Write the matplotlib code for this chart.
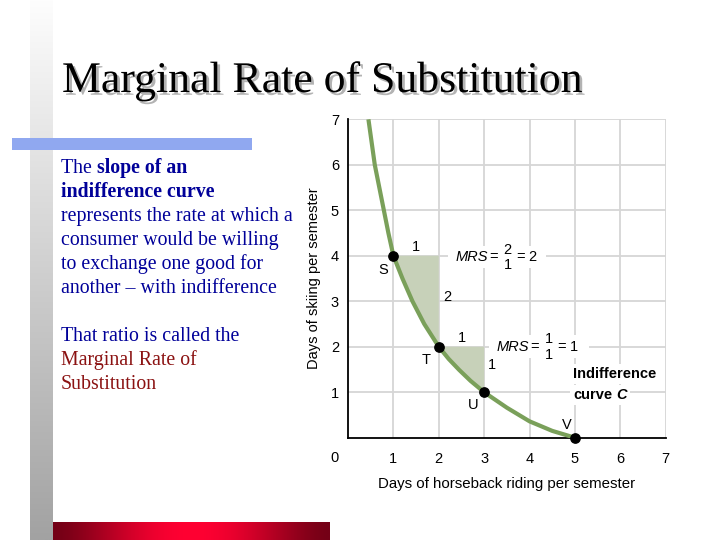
import numpy as np
import matplotlib
matplotlib.use("Agg")
import matplotlib.pyplot as plt
import matplotlib.patheffects as pe
from matplotlib import font_manager
from matplotlib.colors import LinearSegmentedColormap
from matplotlib.patches import Rectangle

# Indifference curve C
curve_x = [0.45, 0.52, 0.59, 0.69, 0.79, 0.89, 1.00, 1.20, 1.42, 1.68, 2.00,
           2.22, 2.45, 2.70, 3.00, 3.50, 4.00, 4.50, 5.00]
curve_y = [7.00, 6.50, 6.00, 5.50, 5.00, 4.50, 4.00, 3.50, 3.00, 2.50, 2.00,
           1.73, 1.49, 1.25, 1.00, 0.66, 0.36, 0.15, 0.00]

# Marked bundles on the curve
point_x = [1, 2, 3, 5]
point_y = [4, 2, 1, 0]
point_names = ["S", "T", "U", "V"]

ticks = [1, 2, 3, 4, 5, 6, 7]

title = "Marginal Rate of Substitution"
body_lines = [
    [("The ", "normal"), ("slope of an", "bold")],
    [("indifference curve", "bold")],
    [("represents the rate at which a", "normal")],
    [("consumer would be willing", "normal")],
    [("to exchange one good for", "normal")],
    [("another \u2013 with indifference", "normal")],
    None,
    [("That ratio is called the", "normal")],
    [("Marginal Rate of", "red")],
    [("Substitution", "red")],
]


def pick_font(names):
    have = {f.name for f in font_manager.fontManager.ttflist}
    for n in names:
        if n in have:
            return n
    return "DejaVu Sans"


sans = pick_font(["Liberation Sans Narrow", "Liberation Sans"])
serif = pick_font(["Liberation Serif", "DejaVu Serif"])

fig = plt.figure(figsize=(7.2, 5.4), dpi=100)

# Slide background, in pixel coordinates
bg = fig.add_axes([0, 0, 1, 1], zorder=0)
bg.axis("off")

gray = LinearSegmentedColormap.from_list("g", ["#fdfdfd", "#a2a2a2"])
bg.imshow(np.linspace(0, 1, 256).reshape(-1, 1), extent=(30, 53, 540, 0),
          aspect="auto", cmap=gray)

t = np.linspace(-1, 1, 400)
w = np.cos(t * np.pi / 2) ** 1.5
dark = np.array([0x74, 0x00, 0x16]) / 255
bright = np.array([0xff, 0x00, 0x32]) / 255
red = (dark[None, :] * (1 - w[:, None]) + bright[None, :] * w[:, None])[None, :, :]
bg.imshow(red, extent=(53, 330, 540, 522), aspect="auto")

bg.add_patch(Rectangle((12, 138), 240, 12, color="#90a8f0", lw=0))
bg.set_xlim(0, 720)
bg.set_ylim(540, 0)

bg.text(62, 92, title, fontsize=31.5, family=serif, color="black", va="baseline",
        path_effects=[pe.withSimplePatchShadow(offset=(2, -2),
                                               shadow_rgbFace="#a0a0a0", alpha=0.8)])

renderer = fig.canvas.get_renderer()
y0 = 173
for line in body_lines:
    if line is None:
        y0 += 24
        continue
    x0 = 61
    for txt, style in line:
        txt_obj = bg.text(x0, y0, txt, fontsize=14.3, family=serif, va="baseline",
                          color="#8b1212" if style == "red" else "#000099",
                          fontweight="bold" if style == "bold" else "normal")
        x0 += txt_obj.get_window_extent(renderer).width
    y0 += 24

# Chart
ax = fig.add_axes([348 / 720, 1 - 437.7 / 540, 317.7 / 720, 318.4 / 540], zorder=1)
ax.set_xlim(0, 7)
ax.set_ylim(0, 7)
ax.set_xticks(ticks)
ax.set_yticks(ticks)
ax.grid(color="#d6d6d6", lw=1.3)
ax.set_axisbelow(True)
for s in ["top", "right"]:
    ax.spines[s].set_visible(False)
for s in ["left", "bottom"]:
    ax.spines[s].set_linewidth(1.3)
ax.tick_params(length=0, labelsize=10.5, labelfontfamily=sans)
ax.tick_params(axis="y", pad=6.5)
ax.tick_params(axis="x", pad=10)
ax.text(-0.29, -0.45, "0", fontsize=10.5, family=sans, ha="center", va="center",
        clip_on=False)
ax.set_xlabel("Days of horseback riding per semester", fontsize=10.8, family=sans,
              labelpad=8)
ax.set_ylabel("Days of skiing per semester", fontsize=10.5, family=sans, labelpad=7)

cx = np.array(curve_x)
cy = np.array(curve_y)

# Shaded MRS steps S->T and T->U
for i in range(2):
    xa, ya = point_x[i], point_y[i]
    xb, yb = point_x[i + 1], point_y[i + 1]
    m = (cx >= xa) & (cx <= xb)
    ax.fill(list(cx[m]) + [xb], list(cy[m]) + [ya], color="#c7d1b9", lw=0, zorder=2)
    ax.text((xa + xb) / 2, ya + 0.2, str(xb - xa), fontsize=10.5, family=sans,
            ha="center", va="center")
    ax.text(xb + 0.18, (ya + yb) / 2 + 0.1, str(ya - yb), fontsize=10.5,
            family=sans, ha="center", va="center")

ax.plot(cx, cy, color="#7aa05a", lw=3, zorder=3, solid_capstyle="butt")
ax.scatter(point_x, point_y, s=45, color="black", zorder=5, clip_on=False)

name_off = [(-0.22, -0.31), (-0.27, -0.29), (-0.25, -0.28), (-0.18, 0.28)]
for px, py, nm, (dx, dy) in zip(point_x, point_y, point_names, name_off):
    ax.text(px + dx, py + dy, nm, fontsize=10.5, family=sans,
            ha="center", va="center")

# MRS expressions
mrs_pos = [(2.36, 3.97, 2.2, 4.37), (3.275, 2.0, 3.1, 5.3)]
for i, (mx, my, gx0, gx1) in enumerate(mrs_pos):
    run = point_x[i + 1] - point_x[i]
    rise = point_y[i] - point_y[i + 1]
    ax.add_patch(Rectangle((gx0, my - 0.25), gx1 - gx0, 0.5, color="white",
                           lw=0, zorder=1.5))
    kw = dict(fontsize=10.5, family=sans, va="center", zorder=4)
    ax.text(mx, my, "MRS", ha="left", style="italic", **kw)
    ax.text(mx + 0.84, my, "=", ha="center", **kw)
    ax.text(mx + 1.16, my + 0.16, str(rise), ha="center", **kw)
    ax.text(mx + 1.16, my - 0.18, str(run), ha="center", **kw)
    ax.text(mx + 1.44, my, "=", ha="center", **kw)
    ax.text(mx + 1.71, my, str(rise // run), ha="center", **kw)

box = dict(fc="white", ec="none", pad=2)
lab_kw = dict(fontsize=10.5, family=sans, fontweight="bold", ha="left",
              va="center", bbox=box, zorder=4)
ax.text(4.96, 1.40, "Indifference", **lab_kw)
cv = ax.text(4.96, 0.94, "curve", **lab_kw)
cv_right = ax.transData.inverted().transform(
    cv.get_window_extent(renderer).corners()[-1])[0]
ax.text(cv_right + 0.1, 0.94, "C", style="italic", **lab_kw)

fig.savefig("out.png", dpi=100)
